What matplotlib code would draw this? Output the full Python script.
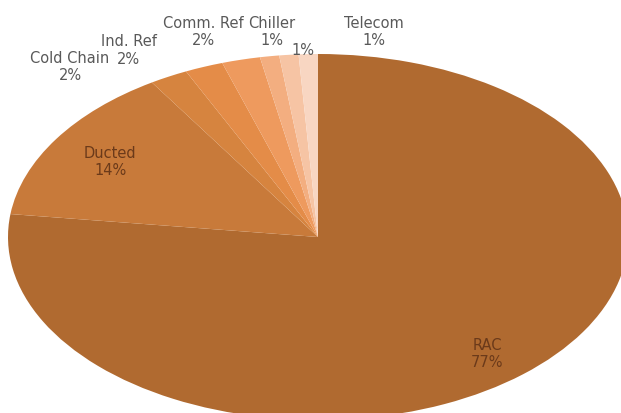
import matplotlib.pyplot as plt

segments = ['RAC', 'Ducted', 'Cold Chain', 'Ind. Ref', 'Comm. Ref', 'Chiller', '', 'Telecom']
shares = [77, 14, 2, 2, 2, 1, 1, 1]
colors = ['#B06A30', '#C87A3A', '#D6843F', '#E48C48', '#EE9A5E', '#F3AE80', '#F6C4A4', '#F8D6C2']

# label centres in data coords (pie radius 1, stretched axes)
label_pos = [(0.545, -0.64), (-0.67, 0.41), (-0.80, 0.93), (-0.61, 1.02),
             (-0.37, 1.12), (-0.15, 1.12), (-0.05, 1.02), (0.18, 1.12)]

fig = plt.figure(figsize=(6.21, 4.13), dpi=100)
ax = fig.add_axes([8 / 621, -7 / 413, 620 / 621, 366 / 413])

ax.pie(shares, colors=colors, startangle=90, counterclock=False,
       wedgeprops=dict(linewidth=0))
ax.set_aspect('auto')
ax.set_xlim(-1, 1)
ax.set_ylim(-1, 1)
ax.axis('off')

for i, (name, val) in enumerate(zip(segments, shares)):
    x, y = label_pos[i]
    color = '#6B3A1A' if i < 2 else '#595959'
    txt = f'{name}\n{val}%' if name else f'{val}%'
    ax.text(x, y, txt, ha='center', va='center', fontsize=10.5, color=color,
            linespacing=1.2, clip_on=False)

fig.savefig('out.png', dpi=100)
